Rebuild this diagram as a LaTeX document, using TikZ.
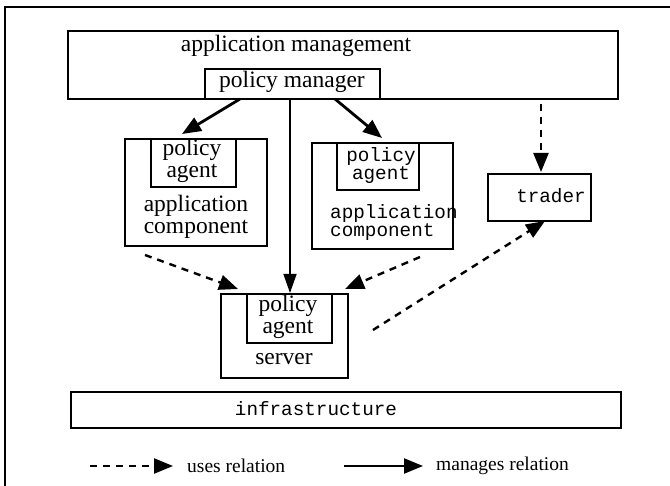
\documentclass[tikz,border=0pt]{standalone}
\usepackage{fontspec}
\setmainfont{Liberation Serif}
\setmonofont{Liberation Mono}
\usetikzlibrary{arrows.meta}
\tikzset{
  box/.style={draw, line width=2pt, inner sep=0pt, anchor=north west},
  lbl/.style={inner sep=0pt, align=center, font=\fontsize{23.5}{22.5}\selectfont},
  keylbl/.style={inner sep=0pt, anchor=west, font=\fontsize{19.5}{20}\selectfont},
  mlbl/.style={inner sep=0pt, align=center, font=\ttfamily\fontsize{19.3}{18}\selectfont},
  head/.style={-{Triangle[length=19pt,width=15pt]}},
  uses/.style={head, line width=2.4pt, dash pattern=on 7pt off 6pt},
  manages/.style={head, line width=2.8pt},
  thinman/.style={-{Triangle[length=19pt,width=13pt]}, line width=1.4pt}
}
\begin{document}
\begin{tikzpicture}[x=1pt, y=-1pt]
  \useasboundingbox (0,0) rectangle (670,486);
  % frame: top and left rules only
  \draw[line width=2pt] (5,486) -- (5,7) -- (670,7);

  % application management with its policy manager
  \node[box, minimum width=550pt, minimum height=68pt] (am) at (67,30) {};
  \node[lbl] (amt) at (296,46) {application management};
  \node[box, minimum width=175pt, minimum height=30pt] (pm) at (204,68) {};
  \node[lbl] (pmt) at (292,82) {policy manager};

  % first application component
  \node[box, minimum width=142pt, minimum height=107pt] (c1) at (124,138) {};
  \node[box, minimum width=85pt, minimum height=48pt] (a1) at (150,138) {};
  \node[lbl] (a1t) at (192,161) {policy\\agent};
  \node[lbl] (c1t) at (196,217) {application\\component};

  % second application component
  \node[box, minimum width=141pt, minimum height=106pt] (c2) at (311,142) {};
  \node[box, minimum width=82pt, minimum height=47pt] (a2) at (336,142) {};
  \node[mlbl] (a2t) at (381,166) {policy\\agent};
  \node[mlbl, align=left, anchor=west] (c2t) at (330,223) {application\\component};

  % trader
  \node[box, minimum width=103pt, minimum height=47pt] (tr) at (487,173) {};
  \node[mlbl] (trt) at (551,196) {trader};

  % server
  \node[box, minimum width=127pt, minimum height=84pt] (sv) at (220,293) {};
  \node[box, minimum width=85pt, minimum height=49pt] (a3) at (246,293) {};
  \node[lbl] (a3t) at (288,317) {policy\\agent};
  \node[lbl] (svt) at (284,359) {server};

  % infrastructure
  \node[box, minimum width=550pt, minimum height=36pt] (inf) at (70,391) {};
  \node[mlbl] (inft) at (316,409) {infrastructure};

  % connector ends
  \coordinate (pmL) at (240,99);
  \coordinate (pmR) at (335,99);
  \coordinate (pmC) at (290,99);
  \coordinate (amT) at (541,104);
  \coordinate (c1o) at (145,255);
  \coordinate (c2o) at (420,257);
  \coordinate (svo) at (373,330);
  \coordinate (a1in) at (182,134);
  \coordinate (a2in) at (382,138);
  \coordinate (svL) at (238,289);
  \coordinate (svR) at (345,289);
  \coordinate (trT) at (541,172);
  \coordinate (trB) at (545,221);

  % manages relations
  \draw[manages] (pmL) -- (a1in);
  \draw[manages] (pmR) -- (a2in);
  \draw[thinman] (pmC) -- (sv.north -| pmC);

  % uses relations
  \draw[uses] (amT) -- (trT);
  \draw[uses] (c1o) -- (svL);
  \draw[uses] (c2o) -- (svR);
  \draw[uses] (svo) -- (trB);

  % legend
  \coordinate (l1a) at (90,466);
  \coordinate (l1b) at (173,466);
  \coordinate (l2a) at (344,466);
  \coordinate (l2b) at (423,466);
  \draw[uses] (l1a) -- (l1b);
  \node[keylbl] (l1t) at (187,466) {uses relation};
  \draw[manages, line width=2.4pt] (l2a) -- (l2b);
  \node[keylbl] (l2t) at (436,466) {manages relation};
\end{tikzpicture}
\end{document}
